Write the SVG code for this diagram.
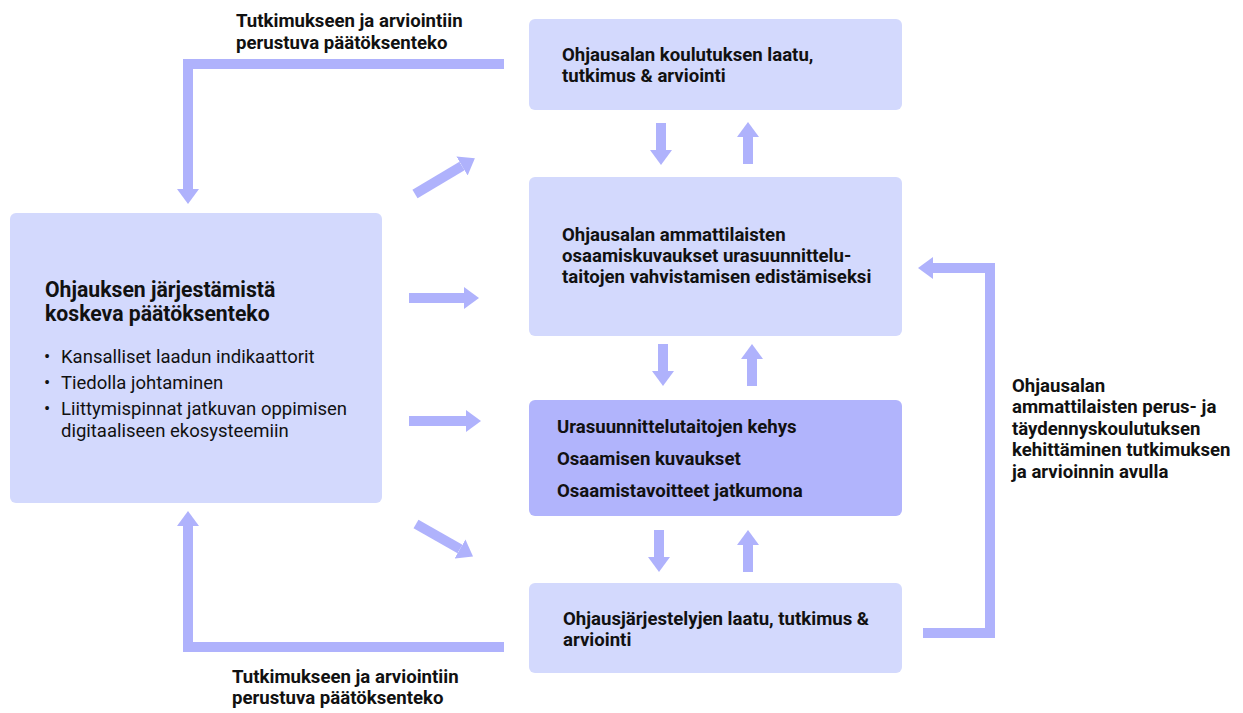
<svg xmlns="http://www.w3.org/2000/svg" width="1243" height="713" viewBox="0 0 1243 713">
  <style>
    .box { fill: #d3d9fd; }
    .box-dark { fill: #b1b4fc; }
    .t { font-family: Roboto, "Liberation Sans", sans-serif; fill: #111111; }
    .b { font-weight: bold; font-size: 18.6px; }
    .lbl { font-weight: bold; font-size: 18.6px; }
    .title { font-weight: bold; font-size: 21.2px; }
    .item { font-size: 18.5px; }
    .conn { stroke: #afb2fc; stroke-width: 10; fill: none; stroke-linecap: butt; stroke-linejoin: miter; }
  </style>
  <defs>
    <marker id="head" markerUnits="userSpaceOnUse" markerWidth="16" markerHeight="22" refX="0" refY="11" orient="auto">
      <path d="M0,0 L15,11 L0,22 z" fill="#afb2fc"/>
    </marker>
  </defs>
  <rect width="1243" height="713" fill="#ffffff"/>

  <!-- connectors -->
  <g id="connectors">
    <!-- feedback loop, top -->
    <path class="conn" d="M504,64 H188 V189" marker-end="url(#head)"/>
    <!-- feedback loop, bottom -->
    <path class="conn" d="M504,647 H188 V526" marker-end="url(#head)"/>
    <!-- right loop -->
    <path class="conn" d="M923,633 H990 V268 H933" marker-end="url(#head)"/>
    <!-- fan-out from decision box -->
    <line class="conn" x1="415" y1="194" x2="462" y2="166" marker-end="url(#head)"/>
    <line class="conn" x1="409" y1="298" x2="464" y2="298" marker-end="url(#head)"/>
    <line class="conn" x1="409" y1="421" x2="466" y2="421" marker-end="url(#head)"/>
    <line class="conn" x1="416" y1="524" x2="460" y2="549" marker-end="url(#head)"/>
    <!-- between boxes 1 and 2 -->
    <line class="conn" x1="661" y1="123" x2="661" y2="150" marker-end="url(#head)"/>
    <line class="conn" x1="748" y1="164" x2="748" y2="137" marker-end="url(#head)"/>
    <!-- between boxes 2 and 3 -->
    <line class="conn" x1="663" y1="344" x2="663" y2="371" marker-end="url(#head)"/>
    <line class="conn" x1="752" y1="386" x2="752" y2="359" marker-end="url(#head)"/>
    <!-- between boxes 3 and 4 -->
    <line class="conn" x1="659" y1="530" x2="659" y2="557" marker-end="url(#head)"/>
    <line class="conn" x1="748" y1="572" x2="748" y2="545" marker-end="url(#head)"/>
  </g>

  <!-- loop labels -->
  <g id="label-top">
    <text class="t lbl" x="236" y="27">Tutkimukseen ja arviointiin</text>
    <text class="t lbl" x="236" y="49">perustuva päätöksenteko</text>
  </g>
  <g id="label-bottom">
    <text class="t lbl" x="232" y="683">Tutkimukseen ja arviointiin</text>
    <text class="t lbl" x="232" y="704">perustuva päätöksenteko</text>
  </g>
  <g id="label-right">
    <text class="t b" x="1012" y="392">Ohjausalan</text>
    <text class="t b" x="1012" y="413">ammattilaisten perus- ja</text>
    <text class="t b" x="1012" y="435">täydennyskoulutuksen</text>
    <text class="t b" x="1012" y="456">kehittäminen tutkimuksen</text>
    <text class="t b" x="1012" y="478">ja arvioinnin avulla</text>
  </g>

  <!-- decision-making box -->
  <g id="node-decision">
    <rect class="box" x="10" y="213" width="372" height="290" rx="6"/>
    <text class="t title" x="45" y="297">Ohjauksen järjestämistä</text>
    <text class="t title" x="45" y="321">koskeva päätöksenteko</text>
    <text class="t item" x="44" y="363">•</text>
    <text class="t item" x="61" y="363">Kansalliset laadun indikaattorit</text>
    <text class="t item" x="44" y="389">•</text>
    <text class="t item" x="61" y="389">Tiedolla johtaminen</text>
    <text class="t item" x="44" y="415">•</text>
    <text class="t item" x="61" y="415">Liittymispinnat jatkuvan oppimisen</text>
    <text class="t item" x="61" y="437">digitaaliseen ekosysteemiin</text>
  </g>

  <!-- training quality box -->
  <g id="node-training">
    <rect class="box" x="529" y="19" width="373" height="91" rx="6"/>
    <text class="t b" x="562" y="61">Ohjausalan koulutuksen laatu,</text>
    <text class="t b" x="562" y="82">tutkimus &amp; arviointi</text>
  </g>

  <!-- competence descriptions box -->
  <g id="node-competence">
    <rect class="box" x="529" y="177" width="373" height="159" rx="6"/>
    <text class="t b" x="562" y="241">Ohjausalan ammattilaisten</text>
    <text class="t b" x="562" y="262">osaamiskuvaukset urasuunnittelu-</text>
    <text class="t b" x="562" y="283">taitojen vahvistamisen edistämiseksi</text>
  </g>

  <!-- framework box -->
  <g id="node-framework">
    <rect class="box-dark" x="529" y="400" width="373" height="116" rx="6"/>
    <text class="t b" x="557" y="433">Urasuunnittelutaitojen kehys</text>
    <text class="t b" x="557" y="465">Osaamisen kuvaukset</text>
    <text class="t b" x="557" y="497">Osaamistavoitteet jatkumona</text>
  </g>

  <!-- guidance arrangements box -->
  <g id="node-arrangements">
    <rect class="box" x="529" y="583" width="373" height="90" rx="6"/>
    <text class="t b" x="563" y="625">Ohjausjärjestelyjen laatu, tutkimus &amp;</text>
    <text class="t b" x="563" y="646">arviointi</text>
  </g>
</svg>
